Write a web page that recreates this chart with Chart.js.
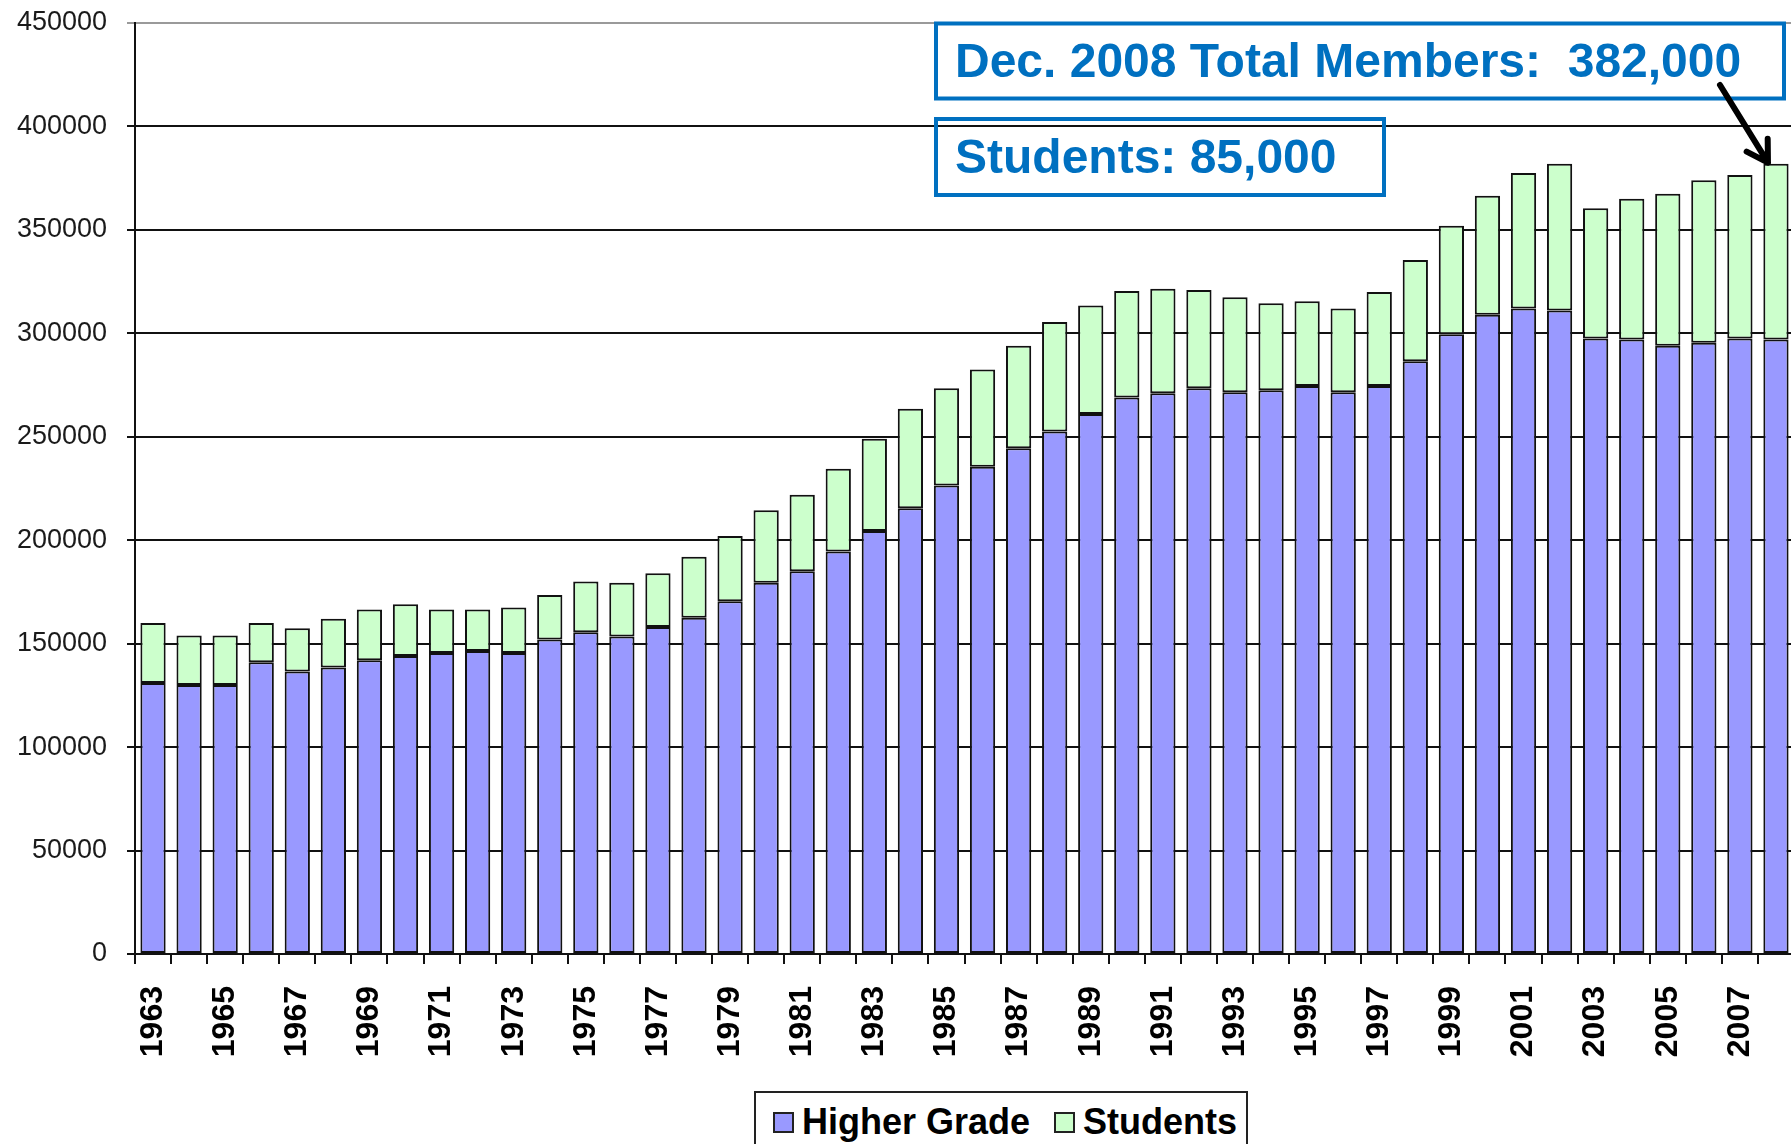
<!DOCTYPE html>
<html>
<head>
<meta charset="utf-8">
<title>Membership 1963-2008</title>
<script src="https://cdn.jsdelivr.net/npm/chart.js@4.4.1/dist/chart.umd.min.js"></script>
<style>
    html, body { margin: 0; padding: 0; background: #fff; overflow: hidden; }
    #wrap { position: absolute; left: 0; top: 0; width: 1794px; height: 1144px; }
    #legend {
        position: absolute; left: 754px; top: 1091px; width: 494px; height: 62px;
        border: 2px solid #222; background: #fff; box-sizing: border-box;
        font: bold 36px "Liberation Sans", Arial, sans-serif; color: #000;
        display: flex; align-items: center; padding-left: 17px; white-space: nowrap;
    }
    #legend .item { display: flex; align-items: center; margin-right: 24px; }
    #legend .swatch { width: 21px; height: 21px; border: 2px solid #222; box-sizing: border-box; margin-right: 8px; }
</style>
</head>
<body>
<div id="wrap">
    <canvas id="membersChart" width="1794" height="1144"></canvas>
    <div id="legend"></div>
</div>
<script>
// ═══════════ DATA ═══════════
const years = ['1963','1964','1965','1966','1967','1968','1969','1970','1971','1972',
    '1973','1974','1975','1976','1977','1978','1979','1980','1981','1982',
    '1983','1984','1985','1986','1987','1988','1989','1990','1991','1992',
    '1993','1994','1995','1996','1997','1998','1999','2000','2001','2002',
    '2003','2004','2005','2006','2007','2008'];

const higherGrade = [131000,130000,130000,141000,136500,138500,142000,144000,145500,146500,
    145500,152000,155500,153500,158000,162500,170500,179500,185000,194500,
    204500,215500,226500,235500,244500,252500,261000,269000,271000,273500,
    271500,272500,274500,271500,274500,286500,299500,309000,312000,311000,
    297500,297000,294000,295500,297500,297000];

const students = [29000,24000,24000,19000,21000,23500,24500,25000,21000,20000,
    22000,21500,24500,26000,26000,29500,31500,35000,37000,40000,
    44500,48000,47000,47000,49500,53000,52500,51500,50500,47500,
    46000,42000,41000,40500,45500,49000,52500,57500,65500,71000,
    63000,68000,73500,78500,79000,85000];

const yMin = 0;
const yMax = 450000;
const yStep = 50000;

const totalNote = 'Dec. 2008 Total Members:  382,000';
const studentNote = 'Students: 85,000';

// ═══════════ ANNOTATIONS ═══════════
const noteBlue = '#0070c0';
const annotations = {
    id: 'annotations',
    afterDraw(chart) {
        const ctx = chart.ctx;
        ctx.save();

        // boxes + text
        ctx.strokeStyle = noteBlue;
        ctx.lineWidth = 4;
        ctx.strokeRect(936, 23.5, 848, 75);
        ctx.strokeRect(936, 119, 448, 76);
        ctx.fillStyle = noteBlue;
        ctx.font = 'bold 48px "Liberation Sans", Arial, sans-serif';
        ctx.textBaseline = 'alphabetic';
        ctx.textAlign = 'left';
        ctx.fillText(totalNote, 955, 77);
        ctx.fillText(studentNote, 955, 173);

        // arrow to the top of the last bar
        const bars = chart.getDatasetMeta(1).data;
        const last = bars[bars.length - 1];
        const tipX = last.x - 8;
        const tipY = last.y - 1;
        const startX = 1720, startY = 85;
        const ang = Math.atan2(tipY - startY, tipX - startX);
        const head = 24, spread = Math.PI / 5.8;

        ctx.strokeStyle = '#000';
        ctx.lineWidth = 6;
        ctx.lineCap = 'round';
        ctx.lineJoin = 'round';
        ctx.beginPath();
        ctx.moveTo(startX, startY);
        ctx.lineTo(tipX, tipY);
        ctx.moveTo(tipX - head * Math.cos(ang - spread), tipY - head * Math.sin(ang - spread));
        ctx.lineTo(tipX, tipY);
        ctx.lineTo(tipX - head * Math.cos(ang + spread), tipY - head * Math.sin(ang + spread));
        ctx.stroke();
        ctx.restore();
    }
};

// ═══════════ CHART ═══════════
const canvas = document.getElementById('membersChart');
const chart = new Chart(canvas, {
    type: 'bar',
    data: {
        labels: years,
        datasets: [
            { label: 'Higher Grade', data: higherGrade, backgroundColor: '#9999ff', borderColor: '#111', borderWidth: 2, borderSkipped: false },
            { label: 'Students', data: students, backgroundColor: '#ccffcc', borderColor: '#111', borderWidth: 2, borderSkipped: false }
        ]
    },
    options: {
        responsive: false,
        animation: false,
        devicePixelRatio: 1,
        barPercentage: 0.7,
        categoryPercentage: 1.0,
        layout: { padding: { top: 23, left: 0, right: 0, bottom: 0 } },
        plugins: { legend: { display: false }, tooltip: { enabled: false } },
        scales: {
            x: {
                stacked: true,
                offset: true,
                grid: { display: true, drawOnChartArea: false, drawTicks: true, tickLength: 10, color: '#111', lineWidth: 2, offset: true },
                border: { display: true, color: '#111', width: 2 },
                ticks: {
                    autoSkip: false, maxRotation: 90, minRotation: 90, padding: 22,
                    color: '#000',
                    font: { family: '"Liberation Sans", Arial, sans-serif', size: 32, weight: 'bold' },
                    callback: (val, i) => (i % 2 === 0 ? years[i] : '')
                },
                afterFit: scale => {
                    scale.height = 190;
                    scale.paddingLeft = 0;
                    scale.paddingRight = 0;
                }
            },
            y: {
                stacked: true,
                min: yMin,
                max: yMax,
                grid: {
                    color: c => (c.tick && c.tick.value === yMax ? '#9a9a9a' : '#111'),
                    lineWidth: 2, tickLength: 8, drawTicks: true
                },
                border: { display: true, color: '#111', width: 2 },
                ticks: {
                    stepSize: yStep, padding: 20, color: '#1a1a1a',
                    font: { family: '"Liberation Sans", Arial, sans-serif', size: 27 },
                    callback: v => String(v)
                },
                afterFit: scale => {
                    scale.width = 135;
                    scale.paddingTop = 0;
                    scale.paddingBottom = 0;
                }
            }
        }
    },
    plugins: [annotations]
});

// ═══════════ LEGEND ═══════════
const legendBox = document.getElementById('legend');
chart.data.datasets.forEach(ds => {
    const item = document.createElement('div');
    item.className = 'item';
    const sw = document.createElement('span');
    sw.className = 'swatch';
    sw.style.background = ds.backgroundColor;
    const txt = document.createElement('span');
    txt.textContent = ds.label;
    item.appendChild(sw);
    item.appendChild(txt);
    legendBox.appendChild(item);
});
</script>
</body>
</html>
